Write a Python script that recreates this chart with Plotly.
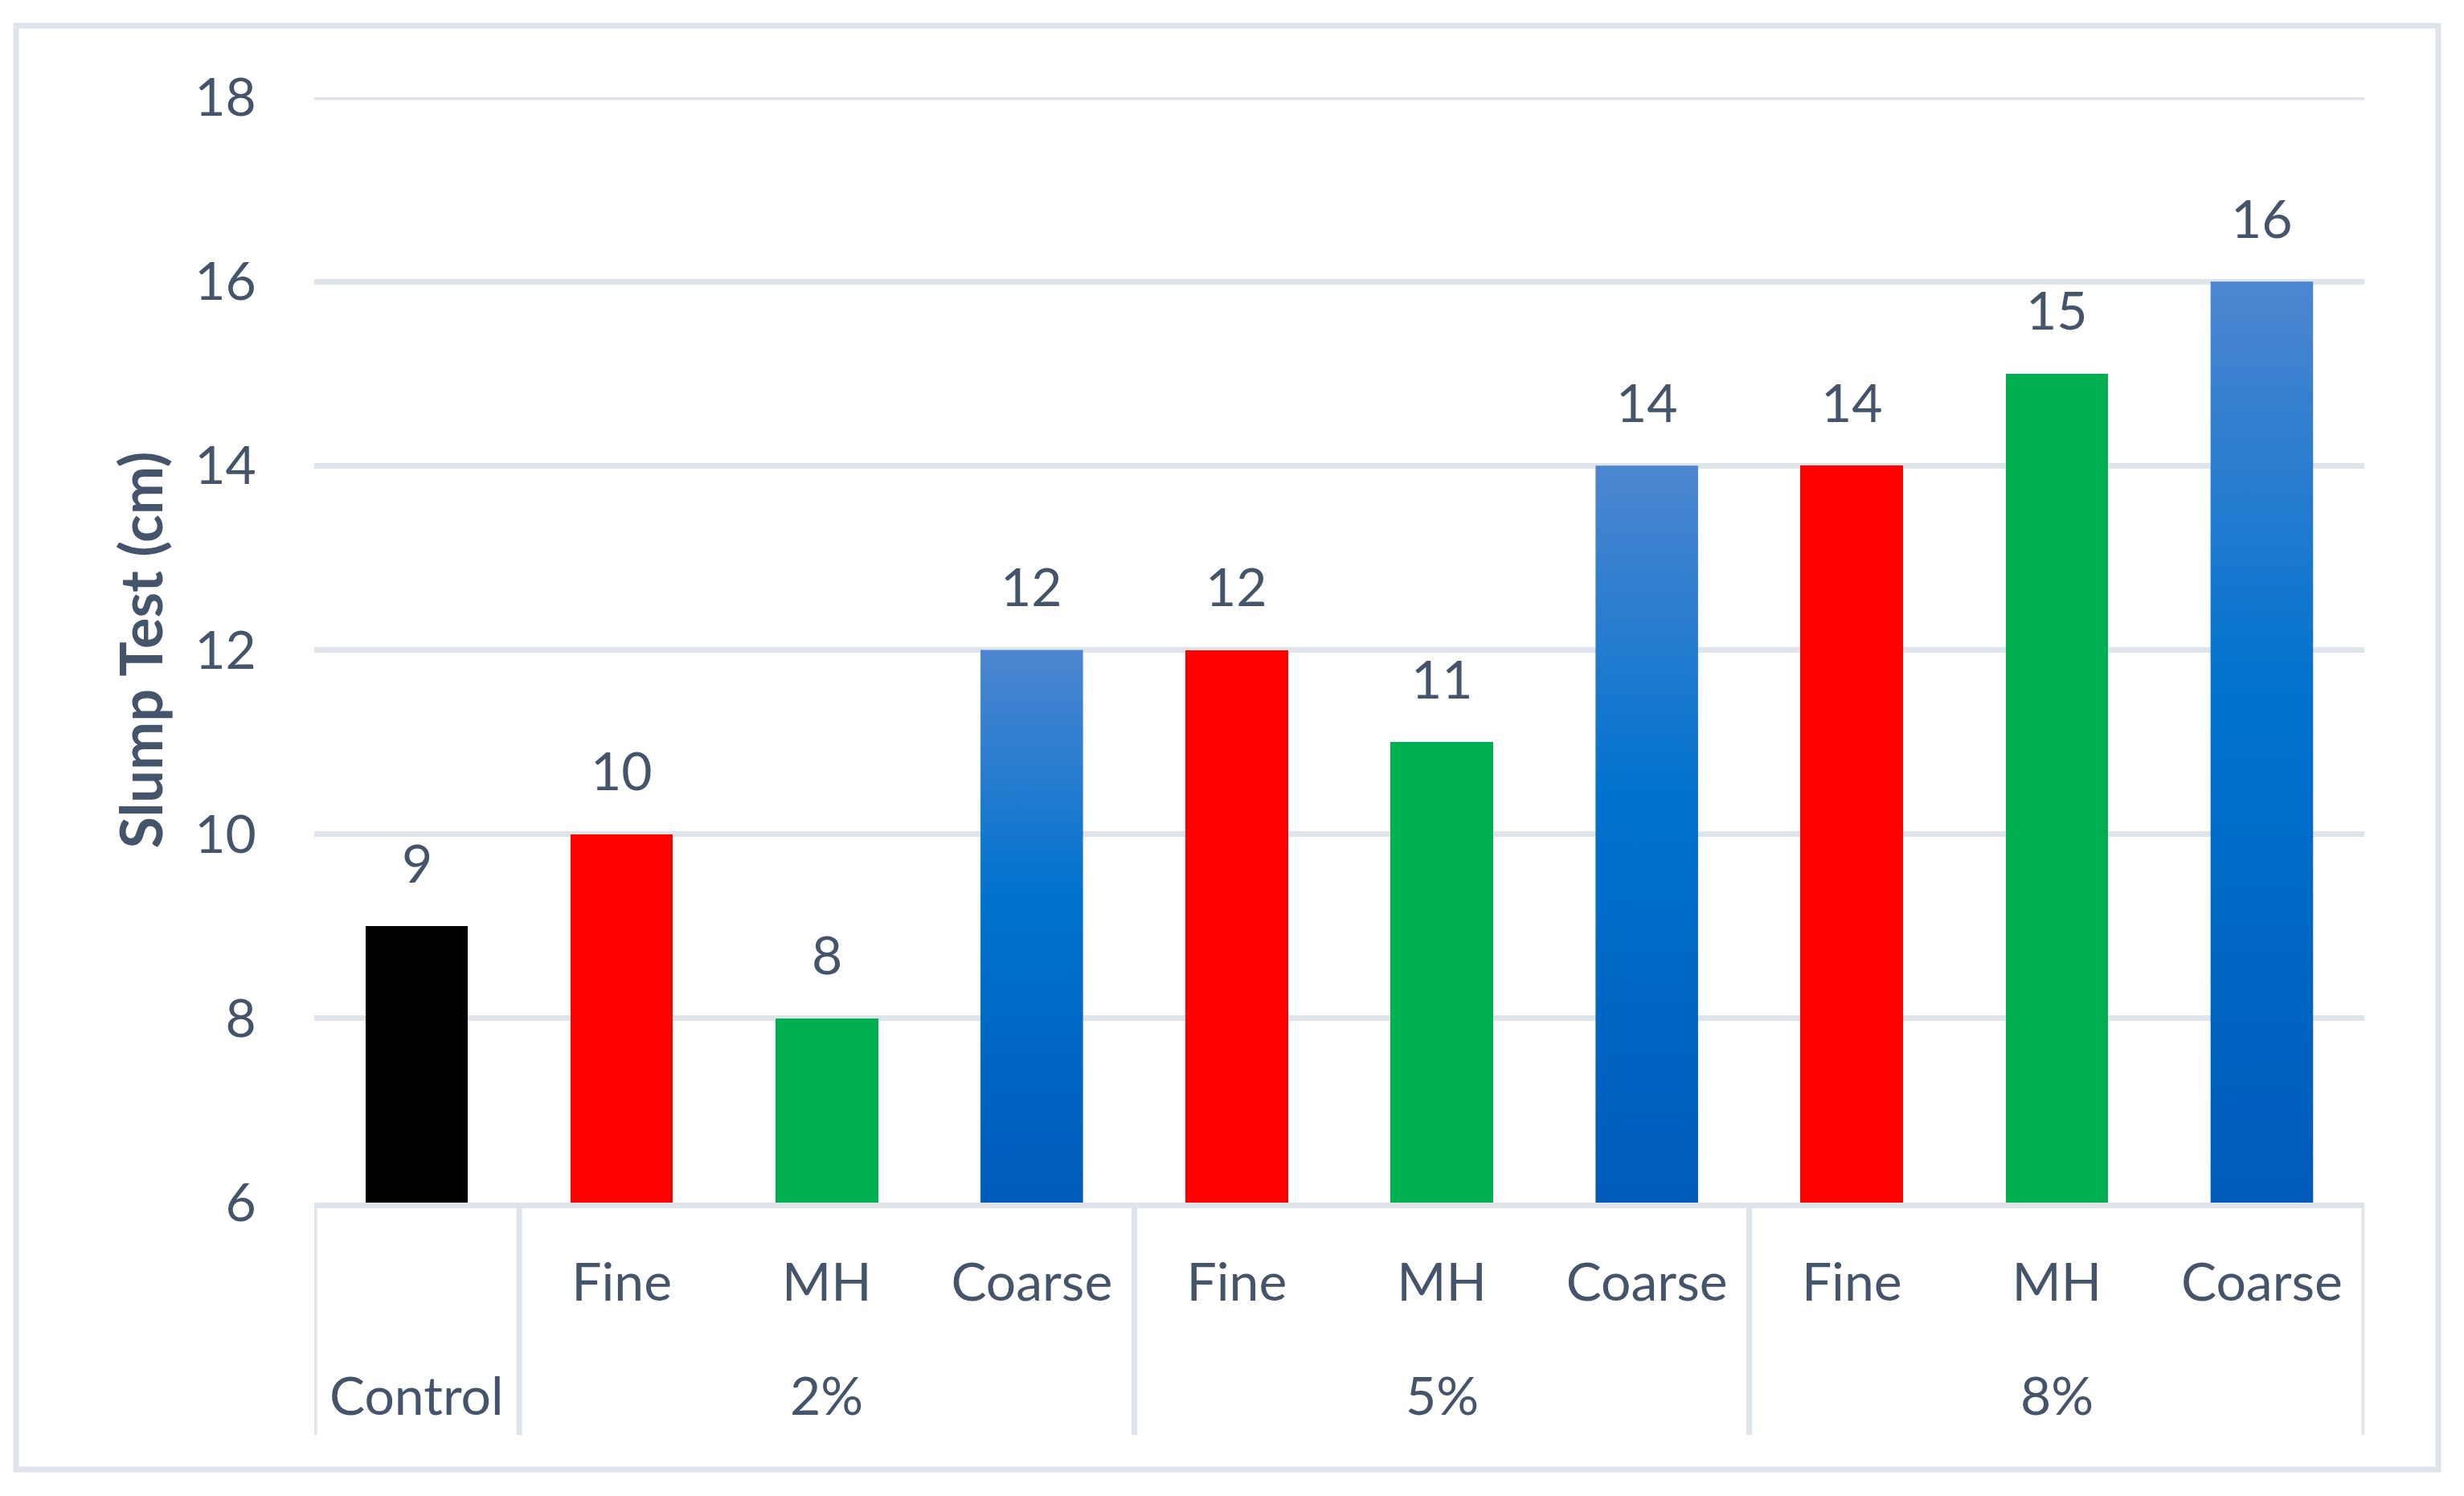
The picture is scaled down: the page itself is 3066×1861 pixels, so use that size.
import plotly.graph_objects as go

# ---- data ----
groups = ["Control", "2%", "2%", "2%", "5%", "5%", "5%", "8%", "8%", "8%"]
types = ["", "Fine", "MH", "Coarse", "Fine", "MH", "Coarse", "Fine", "MH", "Coarse"]
values = [9, 10, 8, 12, 12, 11, 14, 14, 15, 16]
y_ticks = [6, 8, 10, 12, 14, 16, 18]
y_title = "Slump Test (cm)"

# ---- styles ----
solid_colors = {"": "#000000", "Fine": "#FF0000", "MH": "#00B050"}
coarse_scale = [[0.0, "#005BBA"], [0.55, "#0072CE"], [1.0, "#4D86D0"]]
TEXT = "#44546A"
GRID = "#DEE4EA"
FONT = "Lato"
FS = 66
Y_MIN, Y_MAX = 6, 18
BAR_W = 0.5
LW = 7

W, H = 3066, 1861
ML, MR, MT, MB = 383, 132, 113, 373
PW, PH = W - ML - MR, H - MT - MB
BOT = MT + PH  # plot bottom in figure px

pos = list(range(len(values)))

fig = go.Figure()

solid_idx = [i for i, t in enumerate(types) if t != "Coarse"]
fig.add_trace(go.Bar(
    x=[pos[i] for i in solid_idx],
    y=[values[i] for i in solid_idx],
    width=BAR_W,
    marker=dict(color=[solid_colors[types[i]] for i in solid_idx], line=dict(width=0)),
    showlegend=False,
))

# gradient-filled coarse bars
for i, t in enumerate(types):
    if t != "Coarse":
        continue
    v = values[i]
    x0, x1 = pos[i] - BAR_W / 2, pos[i] + BAR_W / 2
    fig.add_trace(go.Scatter(
        x=[x0, x0, x1, x1, x0],
        y=[Y_MIN, v, v, Y_MIN, Y_MIN],
        mode="lines",
        fill="toself",
        fillgradient=dict(type="vertical", colorscale=coarse_scale),
        line=dict(width=0, color="rgba(0,0,0,0)"),
        showlegend=False,
        hoverinfo="skip",
    ))

annotations = []
# value labels
for i, v in enumerate(values):
    annotations.append(dict(
        x=pos[i], y=v, xref="x", yref="y", text=str(v), showarrow=False,
        yanchor="middle", yshift=80, font=dict(family=FONT, size=FS, color=TEXT),
    ))

# outer group labels
uniq = []
for g in groups:
    if g not in uniq:
        uniq.append(g)
for g in uniq:
    idx = [i for i, gg in enumerate(groups) if gg == g]
    annotations.append(dict(
        x=sum(pos[i] for i in idx) / len(idx), y=0, xref="x", yref="paper",
        text=g, showarrow=False, yanchor="middle", yshift=-238,
        font=dict(family=FONT, size=FS, color=TEXT),
    ))

# dividers at group boundaries
shapes = []
bounds = [pos[0] - 0.5]
for i in range(1, len(groups)):
    if groups[i] != groups[i - 1]:
        bounds.append(pos[i] - 0.5)
bounds.append(pos[-1] + 0.5)
div_bottom = -(1777 - BOT) / PH
for b in bounds:
    shapes.append(dict(type="line", xref="x", yref="paper", x0=b, x1=b, y0=0, y1=div_bottom,
                       line=dict(color=GRID, width=LW)))

# top gridline (range edge)
shapes.append(dict(type="line", xref="paper", yref="y", x0=0, x1=1, y0=Y_MAX, y1=Y_MAX,
                   line=dict(color=GRID, width=LW), layer="below"))

# outer chart border
bx0, bx1 = (12 - ML) / PW, (3026 - ML) / PW
by1, by0 = (BOT - 24) / PH, (BOT - 1820) / PH
shapes.append(dict(type="rect", xref="paper", yref="paper", x0=bx0, x1=bx1, y0=by0, y1=by1,
                   line=dict(color=GRID, width=LW), fillcolor="rgba(0,0,0,0)", layer="below"))

fig.update_layout(
    width=W, height=H,
    margin=dict(l=ML, r=MR, t=MT, b=MB, pad=0),
    paper_bgcolor="white", plot_bgcolor="white",
    showlegend=False,
    annotations=annotations,
    shapes=shapes,
    bargap=0,
    font=dict(family=FONT, size=FS, color=TEXT),
)
fig.update_xaxes(
    range=[pos[0] - 0.5, pos[-1] + 0.5],
    tickvals=pos, ticktext=types,
    tickfont=dict(family=FONT, size=FS, color=TEXT),
    ticks="outside", ticklen=36, tickcolor="rgba(0,0,0,0)",
    showgrid=False, zeroline=False,
    showline=True, linecolor=GRID, linewidth=LW,
)
fig.update_yaxes(
    range=[Y_MIN, Y_MAX], tickvals=y_ticks,
    tickfont=dict(family=FONT, size=FS, color=TEXT),
    ticks="outside", ticklen=58, tickcolor="rgba(0,0,0,0)",
    showgrid=True, gridcolor=GRID, gridwidth=LW,
    zeroline=False, showline=False,
    title=dict(text="<b>" + y_title + "</b>", font=dict(family=FONT, size=72, color=TEXT), standoff=16),
)

fig.write_html("out.html")
